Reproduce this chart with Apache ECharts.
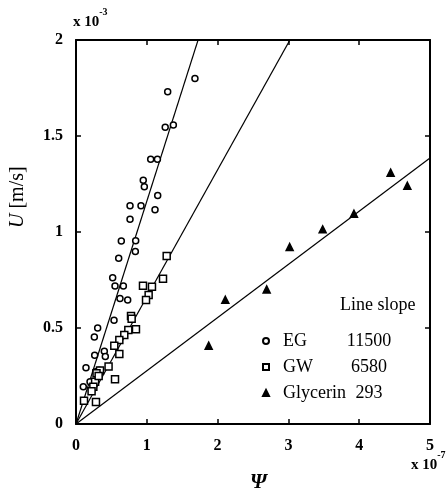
<!DOCTYPE html>
<html><head><meta charset="utf-8">
<script src="https://cdn.jsdelivr.net/npm/echarts@6/dist/echarts.min.js"></script>
<style>html,body{margin:0;padding:0;background:#fff}#c{width:448px;height:494px}</style>
</head><body><div id="c"></div>
<script>
const seriesNames = ['EG', 'GW', 'Glycerin'];
const slopeLabels = ['11500', '6580', '293'];
// fitted line slopes in plot units (U in 1e-3 per Psi in 1e-7)
const lineSlopes = [1.16, 0.662, 0.277];
const xTicks = [0, 1, 2, 3, 4, 5];
const yTicks = [0, 0.5, 1, 1.5, 2];

const egX = [1.68,1.295,1.26,1.375,1.055,1.15,0.95,0.965,1.154,0.763,0.918,1.116,0.763,0.64,0.843,0.838,0.603,0.518,0.551,0.669,0.621,0.73,0.537,0.306,0.259,0.264,0.40,0.414,0.141,0.103,0.198,0.278,0.325,0.25,0.22];
const egY = [1.80,1.73,1.545,1.557,1.379,1.379,1.27,1.236,1.19,1.137,1.137,1.116,1.066,0.953,0.955,0.899,0.863,0.762,0.719,0.719,0.653,0.646,0.540,0.50,0.453,0.358,0.379,0.351,0.293,0.194,0.22,0.272,0.28,0.20,0.17];

const gwX = [1.281,1.229,0.946,1.073,1.026,0.989,0.777,0.786,0.847,0.739,0.682,0.612,0.541,0.612,0.551,0.339,0.29,0.27,0.245,0.113,0.282,0.46,0.32,0.22];
const gwY = [0.875,0.757,0.720,0.715,0.672,0.646,0.5625,0.548,0.493,0.49,0.464,0.4375,0.408,0.365,0.233,0.278,0.264,0.22,0.194,0.121,0.115,0.30,0.25,0.17];

const glyX = [1.874,2.109,2.693,3.018,3.484,3.926,4.444,4.68];
const glyY = [0.408,0.647,0.701,0.922,1.014,1.095,1.309,1.241];

const pts = (xs, ys) => xs.map((x, i) => [x, ys[i]]);
const xMax = xTicks[xTicks.length - 1];
const yMax = yTicks[yTicks.length - 1];
const lineData = s => [[0, 0], [xMax, xMax * s]];

const serif = 'Liberation Serif';
const symbols = ['circle', 'rect', 'triangle'];
const sizes = [6, 7, 7];
const fills = ['#fff', '#fff', '#000'];
const dataSets = [pts(egX, egY), pts(gwX, gwY), pts(glyX, glyY)];

const chart = echarts.init(document.getElementById('c'));
const series = [];
seriesNames.forEach((n, i) => {
  series.push({
    name: n + '_line', type: 'line', data: lineData(lineSlopes[i]), symbol: 'none',
    lineStyle: { color: '#000', width: 1.2 }, clip: true, silent: true, z: 2
  });
});
seriesNames.forEach((n, i) => {
  series.push({
    name: n, type: 'scatter', data: dataSets[i], symbol: symbols[i], symbolSize: sizes[i],
    itemStyle: { color: fills[i], borderColor: '#000', borderWidth: 1.5, opacity: 1 }, z: 3
  });
});

const axisCommon = {
  min: 0,
  axisLine: { show: true, onZero: false, lineStyle: { color: '#000', width: 2 } },
  axisTick: { show: true, inside: true, length: 5, lineStyle: { color: '#000', width: 1.5 } },
  splitLine: { show: false }
};

chart.setOption({
  animation: false,
  backgroundColor: '#fff',
  grid: { left: 76, right: 18, top: 40, bottom: 70 },
  xAxis: [
    Object.assign({}, axisCommon, { type: 'value', max: xMax, interval: 1, position: 'bottom',
      axisLabel: { margin: 14, fontFamily: serif, fontWeight: 'bold', fontSize: 16, color: '#000' } }),
    Object.assign({}, axisCommon, { type: 'value', max: xMax, interval: 1, position: 'top', axisLabel: { show: false } })
  ],
  yAxis: [
    Object.assign({}, axisCommon, { type: 'value', max: yMax, interval: 0.5, position: 'left',
      axisLabel: { margin: 13, fontFamily: serif, fontWeight: 'bold', fontSize: 16, color: '#000',
        formatter: v => String(v) } }),
    Object.assign({}, axisCommon, { type: 'value', max: yMax, interval: 0.5, position: 'right', axisLabel: { show: false } })
  ],
  legend: {
    data: seriesNames, orient: 'vertical', left: 257, top: 327,
    itemWidth: 6, itemHeight: 6, itemGap: 8,
    textStyle: {
      fontFamily: serif, fontSize: 18, color: '#000',
      rich: {
        n: { fontFamily: serif, fontSize: 18, width: 54, padding: [0, 0, 0, 9], color: '#000' },
        v: { fontFamily: serif, fontSize: 18, width: 64, align: 'center', color: '#000' }
      }
    },
    formatter: name => '{n|' + name + '}{v|' + slopeLabels[seriesNames.indexOf(name)] + '}'
  },
  graphic: [
    { type: 'text', left: 340, top: 296, style: { text: 'Line slope', font: '18px "Liberation Serif"', fill: '#000' } },
    { type: 'text', left: 73, top: 7, style: {
      text: '{a|x 10}{b|-3}', rich: { a: { font: 'bold 15px "Liberation Serif"', fill: '#000', padding: [8,0,0,0] }, b: { font: 'bold 10px "Liberation Serif"', fill: '#000', verticalAlign: 'top' } } } },
    { type: 'text', left: 411, top: 450, style: {
      text: '{a|x 10}{b|-7}', rich: { a: { font: 'bold 15px "Liberation Serif"', fill: '#000', padding: [8,0,0,0] }, b: { font: 'bold 10px "Liberation Serif"', fill: '#000', verticalAlign: 'top' } } } },
    { type: 'text', left: 250, top: 472, style: { text: 'Ψ', font: 'italic bold 21px "Liberation Serif"', fill: '#000' } },
    { type: 'text', x: 8, y: 228, rotation: Math.PI / 2, style: {
      text: '{i|U} [m/s]', font: '20px "Liberation Serif"', fill: '#000',
      rich: { i: { font: 'italic 20px "Liberation Serif"', fill: '#000' } } } }
  ],
  series: series
});
</script></body></html>
